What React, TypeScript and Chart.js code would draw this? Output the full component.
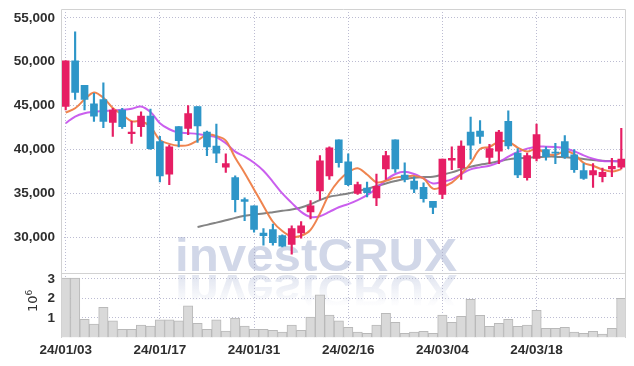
import React, { useEffect, useRef } from 'react';
import { Chart, registerables } from 'chart.js';

Chart.register(...registerables);

const categories = [
  '24/01/03', '24/01/04', '24/01/05', '24/01/08', '24/01/09', '24/01/10', '24/01/11', '24/01/12', '24/01/15', '24/01/16',
  '24/01/17', '24/01/18', '24/01/19', '24/01/22', '24/01/23', '24/01/24', '24/01/25', '24/01/26', '24/01/29', '24/01/30',
  '24/01/31', '24/02/01', '24/02/02', '24/02/05', '24/02/06', '24/02/07', '24/02/08', '24/02/13', '24/02/14', '24/02/15',
  '24/02/16', '24/02/19', '24/02/20', '24/02/21', '24/02/22', '24/02/23', '24/02/26', '24/02/27', '24/02/28', '24/02/29',
  '24/03/04', '24/03/05', '24/03/06', '24/03/07', '24/03/08', '24/03/11', '24/03/12', '24/03/13', '24/03/14', '24/03/15',
  '24/03/18', '24/03/19', '24/03/20', '24/03/21', '24/03/22', '24/03/25', '24/03/26', '24/03/27', '24/03/28', '24/03/29',
];

const opens = [
  44900, 50100, 47300, 45200, 45700, 43100, 44500, 41800, 42600, 43800,
  40900, 37200, 42600, 42400, 44900, 42000, 40400, 38000, 36800, 34300,
  33600, 30500, 30900, 30200, 29200, 30500, 32900, 35300, 37000, 41100,
  38600, 35000, 35600, 34500, 37800, 41100, 37100, 36400, 35700, 34100,
  34900, 38800, 37900, 42000, 42100, 39100, 39800, 43200, 39600, 36800,
  39000, 40000, 39700, 40900, 39400, 37600, 37100, 36900, 37800, 38000,
];
const closes = [
  50100, 46500, 45700, 43800, 43200, 44500, 42600, 42000, 43800, 40100,
  37000, 40300, 41000, 44100, 42700, 40300, 39600, 38400, 34300, 34100,
  30900, 30200, 29400, 29000, 31000, 31300, 33600, 38700, 40200, 38500,
  36000, 36000, 35100, 35800, 39300, 37800, 36600, 35500, 34400, 33400,
  38900, 39000, 40400, 40500, 41500, 40100, 42000, 40400, 37100, 39300,
  41700, 39200, 39600, 39200, 37700, 36700, 37600, 37400, 38100, 38900,
];
const highs = [
  50100, 53400, 47300, 46400, 47600, 44700, 44700, 43200, 44300, 44600,
  41500, 40500, 42600, 45000, 44900, 42100, 42900, 39500, 37000, 34500,
  33600, 31000, 31500, 30300, 31300, 31800, 34200, 39300, 40300, 41100,
  39500, 36300, 36300, 37200, 39800, 41100, 38500, 36900, 36200, 34100,
  38900, 40300, 41000, 43700, 43300, 40600, 42200, 44400, 40100, 39600,
  42900, 40300, 40700, 41600, 40000, 38400, 38400, 37900, 39000, 42400,
];
const lows = [
  44500, 45700, 44500, 43200, 42500, 41500, 42400, 40700, 41500, 40000,
  36300, 36000, 40300, 41700, 40800, 39300, 38500, 37400, 32900, 31900,
  30600, 29100, 29100, 28900, 28100, 29900, 32100, 34300, 36600, 38000,
  35900, 34900, 34600, 33600, 36600, 37400, 36300, 35100, 34000, 32700,
  34400, 37700, 36600, 38900, 40700, 38400, 38400, 40100, 36800, 36500,
  38700, 38800, 38400, 39000, 37400, 36600, 35700, 36300, 36900, 37800,
];

const volumes = [
  3040000, 3040000, 930000, 690000, 1550000, 850000, 420000, 420000, 640000, 590000,
  900000, 900000, 850000, 1620000, 730000, 420000, 900000, 330000, 990000, 590000,
  420000, 420000, 370000, 280000, 630000, 370000, 1040000, 2180000, 1150000, 850000,
  520000, 280000, 220000, 640000, 1240000, 780000, 220000, 280000, 320000, 220000,
  1150000, 780000, 1090000, 1960000, 1130000, 570000, 730000, 930000, 570000, 630000,
  1390000, 470000, 470000, 520000, 280000, 220000, 320000, 170000, 470000, 2010000,
];

const ma5 = [
  44200, 44700, 45700, 46500, 45900, 44740, 43960, 43220, 43220, 42600,
  41100, 40640, 40440, 40500, 41020, 41680, 41540, 41020, 39060, 37340,
  35460, 33580, 31780, 30720, 30100, 30180, 30860, 32720, 34960, 36460,
  37400, 37880, 37160, 36280, 36440, 36800, 36920, 37000, 36720, 35540,
  35760, 36240, 37220, 38440, 40060, 40300, 40900, 40900, 40220, 39780,
  40100, 39540, 39380, 39800, 39480, 38480, 38160, 37720, 37500, 37740,
];
const ma10 = [
  43000, 43760, 44140, 44290, 44370, 44450, 44520, 44640, 44900, 44260,
  43000, 42310, 41930, 41860, 41780, 41600, 41400, 40710, 39760, 39190,
  38500, 37590, 36330, 35000, 33930, 32900, 32330, 32410, 32900, 33430,
  33780, 34240, 34810, 35570, 36520, 37210, 37470, 37210, 36710, 36140,
  36330, 36600, 37210, 37740, 37970, 38160, 38540, 39190, 39720, 40100,
  40330, 40330, 40290, 40140, 39800, 39340, 38960, 38690, 38660, 38660,
];
const ma60 = [
  null, null, null, null, null, null, null, null, null, null,
  null, null, null, null, 31190, 31420, 31680, 31950, 32220, 32450,
  32600, 32710, 32860, 33020, 33170, 33400, 33780, 34240, 34620, 34810,
  35000, 35260, 35530, 35840, 36140, 36410, 36640, 36790, 36860, 36900,
  37130, 37400, 37740, 38050, 38270, 38430, 38660, 38880, 39000, 39070,
  39150, 39190, 39190, 39110, 39040, 38920, 38810, 38730, 38690, 38660,
];

const priceTicks = [30000, 35000, 40000, 45000, 50000, 55000];
const volumeTicks = [1000000, 2000000, 3000000];
const xTickEvery = 10;

const UP = '#e61e64';
const DOWN = '#2e96c8';
const GRID = 'rgba(165,165,195,0.75)';
const FRAME = '#d2d2d2';
const FONT = "'Liberation Sans', Arial, sans-serif";
const TICK_COLOR = '#2e2e2e';

const framePlugin = {
  id: 'frame',
  beforeDraw(chart: any) {
    const { ctx, chartArea } = chart;
    const yv = chart.scales.yv;
    const y = chart.scales.y;
    const mirror = y.bottom;
    ctx.save();
    ctx.font = `bold 46px 'Liberation Sans', Arial, sans-serif`;
    const text = 'investCRUX';
    const w = ctx.measureText(text).width;
    const targetW = 282;
    const left = 175;
    const base = mirror - 2;
    ctx.translate(left, 0);
    ctx.scale(targetW / w, 1);
    ctx.fillStyle = '#d1d7e8';
    ctx.textBaseline = 'alphabetic';
    ctx.fillText(text, 0, base);
    ctx.restore();

    ctx.save();
    ctx.beginPath();
    ctx.rect(chartArea.left, mirror, chartArea.right - chartArea.left, yv.bottom - mirror);
    ctx.clip();
    ctx.font = `bold 46px 'Liberation Sans', Arial, sans-serif`;
    ctx.translate(left, 2 * mirror);
    ctx.scale(targetW / w, -1);
    const g = ctx.createLinearGradient(0, mirror, 0, mirror - 34);
    g.addColorStop(0, 'rgba(209,215,232,0.7)');
    g.addColorStop(1, 'rgba(209,215,232,0)');
    ctx.fillStyle = g;
    ctx.fillText(text, 0, base);
    ctx.restore();
  },
  afterDraw(chart: any) {
    const { ctx, chartArea } = chart;
    const y = chart.scales.y;
    const yv = chart.scales.yv;
    const l = Math.round(chartArea.left) + 0.5;
    const r = Math.round(chartArea.right) - 0.5;
    const t = Math.round(chartArea.top) + 0.5;
    const b = Math.round(yv.bottom);
    const sep = Math.round(y.bottom) + 0.5;
    ctx.save();
    ctx.strokeStyle = FRAME;
    ctx.lineWidth = 1;
    ctx.beginPath();
    ctx.moveTo(l, b);
    ctx.lineTo(l, t);
    ctx.lineTo(r, t);
    ctx.lineTo(r, b);
    ctx.moveTo(l, sep);
    ctx.lineTo(r, sep);
    ctx.stroke();

    // volume axis title 10^6
    ctx.fillStyle = '#333';
    ctx.translate(37, 312);
    ctx.rotate(-Math.PI / 2);
    ctx.textBaseline = 'alphabetic';
    ctx.textAlign = 'left';
    ctx.font = "13px 'DejaVu Sans', sans-serif";
    ctx.fillText('10', 0, 0);
    const w10 = ctx.measureText('10').width;
    ctx.font = "9px 'DejaVu Sans', sans-serif";
    ctx.fillText('6', w10, -5);
    ctx.restore();
  },
};

export default function App() {
  const ref = useRef<HTMLCanvasElement>(null);

  useEffect(() => {
    if (!ref.current) return;
    const colors = closes.map((c, i) => (c >= opens[i] ? UP : DOWN));
    const zeroPadY = (s: any) => {
      s.width = 61;
      s.paddingTop = 0;
      s.paddingBottom = 0;
    };
    const tickFont = { family: FONT, size: 13.5, weight: 'bold' as const };
    const chart = new Chart(ref.current, {
      type: 'bar',
      data: {
        labels: categories,
        datasets: [
          {
            type: 'bar',
            label: 'body',
            data: opens.map((o, i) => [o, closes[i]]) as any,
            backgroundColor: colors,
            borderColor: colors,
            borderWidth: 0,
            barThickness: 7,
            grouped: false,
            yAxisID: 'y',
            order: 0,
          },
          {
            type: 'bar',
            label: 'wick',
            data: lows.map((l, i) => [l, highs[i]]) as any,
            backgroundColor: colors,
            borderWidth: 0,
            barThickness: 1.5,
            grouped: false,
            yAxisID: 'y',
            order: 1,
          },
          {
            type: 'line',
            label: 'MA5',
            data: ma5,
            borderColor: 'rgba(238,125,70,0.95)',
            borderWidth: 2,
            pointRadius: 0,
            tension: 0.35,
            yAxisID: 'y',
            order: 2,
          },
          {
            type: 'line',
            label: 'MA10',
            data: ma10,
            borderColor: 'rgba(196,78,236,0.9)',
            borderWidth: 2,
            pointRadius: 0,
            tension: 0.35,
            yAxisID: 'y',
            order: 3,
          },
          {
            type: 'line',
            label: 'MA60',
            data: ma60,
            borderColor: 'rgba(110,110,110,0.85)',
            borderWidth: 2,
            pointRadius: 0,
            tension: 0.35,
            yAxisID: 'y',
            order: 4,
          },
          {
            type: 'bar',
            label: 'volume',
            data: volumes,
            backgroundColor: '#d9d9d9',
            borderColor: '#b9b9b9',
            borderWidth: 1,
            barPercentage: 1,
            categoryPercentage: 1,
            grouped: false,
            yAxisID: 'yv',
            order: 5,
          },
        ] as any,
      },
      options: {
        animation: false,
        responsive: false,
        maintainAspectRatio: false,
        layout: { padding: { top: 9, right: 8, left: 0, bottom: 0 } },
        plugins: { legend: { display: false }, tooltip: { enabled: false } },
        scales: {
          x: {
            type: 'category',
            offset: true,
            grid: { display: true, offset: false, color: GRID, drawTicks: false },
            border: { display: false, dash: [1, 2] },
            ticks: {
              autoSkip: false,
              maxRotation: 0,
              padding: 5,
              color: TICK_COLOR,
              font: tickFont,
            },
            afterBuildTicks: (s: any) => {
              s.ticks = s.ticks.filter((t: any) => t.value % xTickEvery === 0);
            },
            afterFit: (s: any) => {
              s.height = 28.5;
              s.paddingLeft = 0;
              s.paddingRight = 0;
            },
          },
          y: {
            type: 'linear',
            position: 'left',
            stack: 'panels',
            stackWeight: 263.5,
            weight: 1,
            min: 26000,
            max: 56000,
            grid: { color: GRID, drawTicks: false },
            border: { display: false, dash: [1, 2] },
            ticks: {
              autoSkip: false,
              padding: 6,
              color: TICK_COLOR,
              font: tickFont,
              callback: (v: any) => Number(v).toLocaleString('en-US'),
            },
            afterBuildTicks: (s: any) => {
              s.ticks = priceTicks.map((v) => ({ value: v }));
            },
            afterFit: zeroPadY,
          },
          yv: {
            type: 'linear',
            position: 'left',
            stack: 'panels',
            stackWeight: 65,
            weight: 0,
            min: 0,
            max: 3330000,
            grid: { color: GRID, drawTicks: false },
            border: { display: false, dash: [1, 2] },
            ticks: {
              autoSkip: false,
              padding: 6,
              color: TICK_COLOR,
              font: tickFont,
              callback: (v: any) => String(Number(v) / 1000000),
            },
            afterBuildTicks: (s: any) => {
              s.ticks = volumeTicks.map((v) => ({ value: v }));
            },
            afterFit: zeroPadY,
          },
        } as any,
      },
      plugins: [framePlugin],
    });
    return () => chart.destroy();
  }, []);

  return (
    <div style={{ position: 'fixed', left: 0, top: 0, width: 634, height: 366, background: '#fff' }}>
      <canvas ref={ref} width={634} height={366} style={{ display: 'block' }} />
    </div>
  );
}
